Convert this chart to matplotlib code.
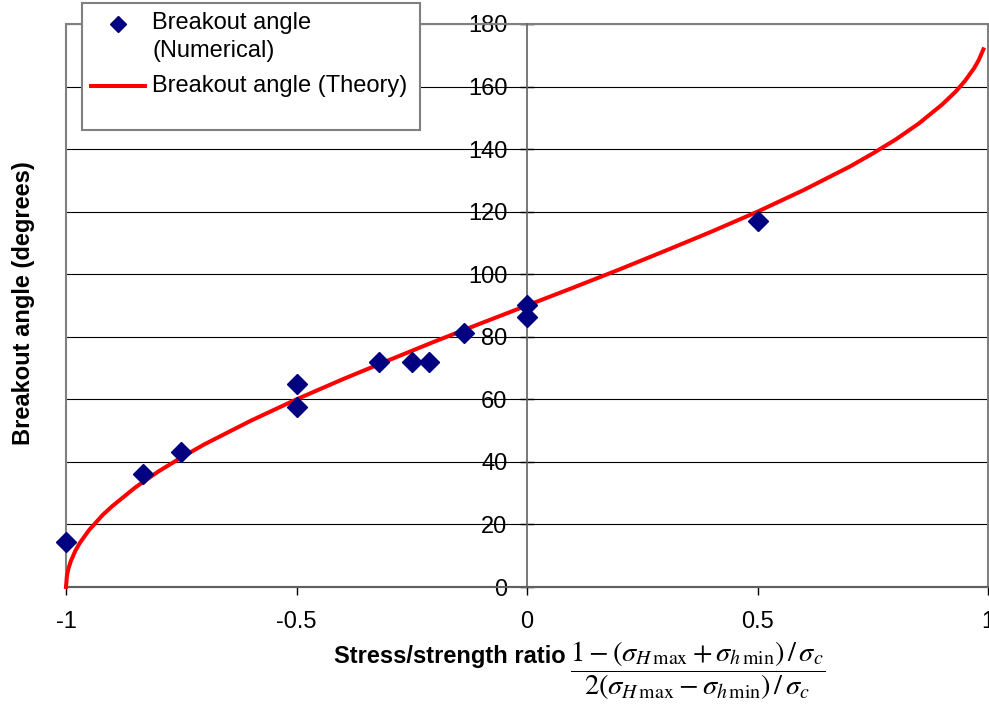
import matplotlib
matplotlib.use("Agg")
import matplotlib.pyplot as plt
import matplotlib.patches as mpatches
from matplotlib.lines import Line2D

plt.rcParams["font.family"] = ["Liberation Sans", "DejaVu Sans"]
plt.rcParams["axes.unicode_minus"] = False
plt.rcParams["mathtext.fontset"] = "stix"

W, H = 989, 707
NAVY, RED, GREY = "#000080", "#ff0000", "#808080"
FS = 17

# numerical breakout angles
num_x = [-1.0, -0.833, -0.75, -0.5, -0.5, -0.32, -0.25, -0.213, -0.137, 0.0, 0.0, 0.5]
num_y = [14.4, 36.1, 43.2, 64.9, 57.5, 71.9, 72.0, 72.0, 81.2, 90.2, 86.3, 117.0]

# theory curve
th_x = [-1.0, -0.998, -0.995, -0.99, -0.98, -0.97, -0.95, -0.92, -0.9, -0.85, -0.8, -0.75, -0.7,
        -0.6, -0.5, -0.4, -0.3, -0.2, -0.1, 0.0, 0.1, 0.2, 0.3, 0.4, 0.5, 0.6, 0.7, 0.75,
        0.8, 0.85, 0.9, 0.93, 0.95, 0.97, 0.98, 0.99]
th_y = [0.0, 3.6, 5.7, 8.1, 11.5, 14.1, 18.2, 23.1, 25.8, 31.8, 36.9, 41.4, 45.6,
        53.1, 60.0, 66.4, 72.5, 78.5, 84.3, 90.0, 95.7, 101.5, 107.5, 113.6, 120.0, 126.9,
        134.4, 138.6, 143.1, 148.2, 154.2, 158.4, 161.8, 165.9, 168.5, 171.9]

x_ticks = [-1, -0.5, 0, 0.5, 1]
x_labels = ["-1", "-0.5", "0", "0.5", "1"]
y_ticks = list(range(0, 181, 20))

fig = plt.figure(figsize=(W / 100, H / 100), dpi=100)
ax = fig.add_axes([66 / W, 1 - 587 / H, (988 - 66) / W, (587 - 24) / H])
ax.set_xlim(-1, 1)
ax.set_ylim(0, 180)

for y in y_ticks[1:]:
    ax.axhline(y, color="black", linewidth=0.8, zorder=1)

# plot-area border
ax.add_patch(mpatches.Rectangle((0, 0), 1, 1, transform=ax.transAxes, fill=False,
                                edgecolor=GREY, linewidth=1.5, zorder=2, clip_on=False))

ax.spines[["top", "right"]].set_visible(False)
ax.spines["left"].set_position(("data", 0))
ax.spines["left"].set_color("#606060")
ax.spines["bottom"].set_color("#606060")
ax.spines["left"].set_linewidth(1.2)
ax.spines["bottom"].set_linewidth(1.5)

ax.set_xticks(x_ticks)
ax.set_xticklabels(x_labels)
ax.set_yticks(y_ticks)
ax.tick_params(axis="y", direction="inout", length=10, width=1, pad=9, labelsize=FS, colors="black")
ax.tick_params(axis="x", direction="out", length=6, width=1, pad=11, labelsize=FS)

ax.plot(th_x, th_y, color=RED, linewidth=2.9, zorder=3, clip_on=False)
ax.plot(num_x, num_y, linestyle="none", marker="D", markersize=10, color=NAVY, zorder=4, clip_on=False)

# axis titles
fig.text(24 / W, 1 - 303 / H, "Breakout angle (degrees)", rotation=90, ha="center", va="center",
         fontsize=FS, fontweight="bold")
fig.text(450 / W, 1 - 657 / H, "Stress/strength ratio", ha="center", va="center",
         fontsize=FS, fontweight="bold")
fig.text(698 / W, 1 - 671 / H,
         r"$\dfrac{1-(\sigma_{H\,\max}+\sigma_{h\,\min})\,/\,\sigma_c}{2(\sigma_{H\,\max}-\sigma_{h\,\min})\,/\,\sigma_c}$",
         ha="center", va="center", fontsize=20.5)

# legend box drawn by hand, Excel style
fig.add_artist(mpatches.Rectangle((82 / W, 1 - 130 / H), 338 / W, 127 / H, transform=fig.transFigure,
                                  facecolor="white", edgecolor=GREY, linewidth=1.5, zorder=10))
fig.add_artist(Line2D([118 / W], [1 - 24 / H], transform=fig.transFigure, marker="D",
                      markersize=8, color=NAVY, linestyle="none", zorder=11))
fig.add_artist(Line2D([91 / W, 145 / W], [1 - 86 / H, 1 - 86 / H], transform=fig.transFigure,
                      color=RED, linewidth=2.9, zorder=11))
fig.text(152 / W, 1 - 23 / H, "Breakout angle", ha="left", va="center", fontsize=FS, zorder=12)
fig.text(152 / W, 1 - 51 / H, "(Numerical)", ha="left", va="center", fontsize=FS, zorder=12)
fig.text(152 / W, 1 - 86 / H, "Breakout angle (Theory)", ha="left", va="center", fontsize=FS, zorder=12)

plt.savefig("out.png", dpi=100)
